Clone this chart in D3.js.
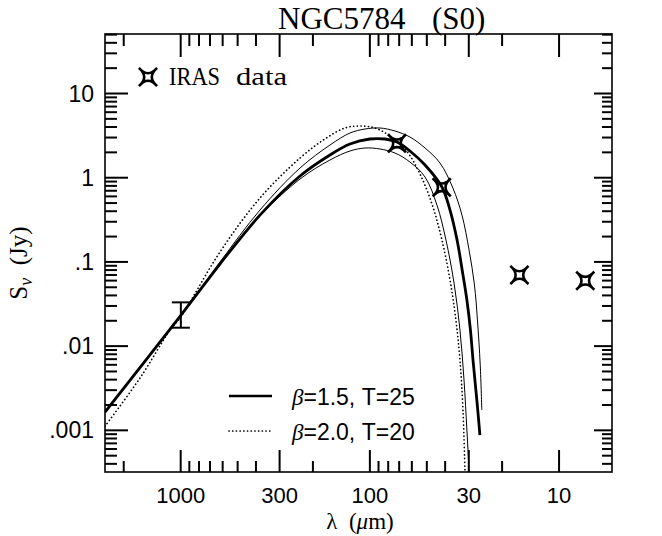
<!DOCTYPE html>
<html><head><meta charset="utf-8">
<script src="https://cdn.jsdelivr.net/npm/d3@7"></script>
<style>body{margin:0;background:#fff} svg{display:block}</style>
</head><body><svg id="c" width="662" height="536"></svg>
<script>
// ---- data ----
const titleText = ["NGC5784", "(S0)"];
const xMajorTicks = [1000, 300, 100, 30, 10];
const xTickLabels = ["1000", "300", "100", "30", "10"];
const xMinorTicks = [2000, 900, 800, 700, 600, 500, 400, 200, 90, 80, 70, 60, 50, 40, 20];
const yMajorTicks = [10, 1, 0.1, 0.01, 0.001];
const yTickLabels = ["10", "1", ".1", ".01", ".001"];

const irasLambda = [71.9, 41.7, 16.2, 7.27];
const irasFlux = [2.56, 0.769, 0.0699, 0.0598];

const mmLambda = [998];
const mmLow = [0.01655];
const mmHigh = [0.0331];

// beta=1.5, T=25 (thick)
const fitALambda = [2512, 996, 620, 381, 234, 162.5, 127.4, 100, 83.2, 71.9, 61.4, 51.1, 41.6, 37.7, 34.6, 32.2, 30.7, 29.4, 28.5, 27.2, 26.2];
const fitAFlux   = [0.00165, 0.0234, 0.0944, 0.360, 1.048, 1.861, 2.512, 2.882, 2.882, 2.655, 2.076, 1.415, 0.775, 0.413, 0.182, 0.0699, 0.0353, 0.01553, 0.00684, 0.00229, 0.000879];
// beta=2.0, T=20 (dotted)
const fitBLambda = [2512, 1641, 1139, 996, 620, 381, 234, 173, 135.4, 112.8, 94.0, 78.3, 64.5, 53.7, 46.4, 41.6, 37.7, 35.1, 33.4, 32.2, 31.4, 31.0];
const fitBFlux   = [0.00112, 0.00418, 0.0155, 0.0225, 0.1311, 0.574, 1.714, 2.882, 3.894, 4.112, 3.894, 3.128, 2.133, 1.048, 0.4487, 0.182, 0.0610, 0.0204, 0.00684, 0.00174, 0.00032, 0.000149];
// upper thin envelope
const fitHiLambda = [2512, 996, 620, 381, 234, 162.5, 127.4, 106.1, 88.4, 73.7, 61.4, 51.1, 42.6, 36.4, 32.6, 29.9, 28.0, 27.0, 26.1, 25.6];
const fitHiFlux   = [0.00165, 0.0234, 0.0998, 0.413, 1.304, 2.445, 3.395, 3.787, 3.894, 3.586, 3.044, 2.253, 1.495, 0.7545, 0.360, 0.1384, 0.0532, 0.0204, 0.00596, 0.00174];
// lower thin envelope
const fitLoLambda = [2512, 996, 620, 381, 234, 162.5, 127.4, 106.1, 88.4, 73.7, 61.4, 51.1, 44.2, 39.6, 35.9, 33.4, 31.8, 30.7, 29.9, 29.6];
const fitLoFlux   = [0.00165, 0.0234, 0.0944, 0.351, 0.965, 1.623, 2.076, 2.253, 2.192, 1.965, 1.536, 1.019, 0.474, 0.182, 0.0562, 0.01553, 0.00396, 0.001008, 0.00032, 0.000149];

const legendLabels = ["\u03b2=1.5, T=25", "\u03b2=2.0, T=20"];

// ---- layout ----
const PL = 105, PR = 612, PT = 34, PB = 472;
const svg = d3.select("#c");
const ink = "#000";

const x = d3.scaleLog().domain([2512, 5.25]).range([PL, PR]);
const y = d3.scaleLog().domain([0.00032, 50.9]).range([PB, PT]);

svg.append("defs").append("clipPath").attr("id", "clip")
  .append("rect").attr("x", PL).attr("y", PT).attr("width", PR - PL).attr("height", PB - PT);

// frame
svg.append("rect").attr("x", PL).attr("y", PT).attr("width", PR - PL).attr("height", PB - PT)
  .attr("fill", "none").attr("stroke", "#111").attr("stroke-width", 1.7);

// ticks
const yMinor = [];
for (let d = -4; d <= 1; d++) for (let k = 2; k <= 9; k++) {
  const v = k * Math.pow(10, d);
  if (v > y.domain()[0] && v < y.domain()[1]) yMinor.push(v);
}
const segs = [];
xMajorTicks.forEach(v => { segs.push([x(v), PB, x(v), PB - 22], [x(v), PT, x(v), PT + 23]); });
xMinorTicks.forEach(v => { segs.push([x(v), PB, x(v), PB - 11], [x(v), PT, x(v), PT + 12]); });
yMajorTicks.forEach(v => { segs.push([PL, y(v), PL + 23, y(v)], [PR, y(v), PR - 18, y(v)]); });
yMinor.forEach(v => { segs.push([PL, y(v), PL + 12, y(v)], [PR, y(v), PR - 10, y(v)]); });
svg.append("g").attr("class", "ticks").selectAll("line").data(segs).enter().append("line")
  .attr("x1", d => d[0]).attr("y1", d => d[1]).attr("x2", d => d[2]).attr("y2", d => d[3])
  .style("stroke", "#000").style("stroke-width", "2px");

// tick labels
const sans = "'Liberation Sans', Arial, sans-serif";
const serif = "'Liberation Serif', 'DejaVu Serif', serif";
svg.append("g").selectAll("text").data(xMajorTicks).join("text")
  .attr("x", d => x(d)).attr("y", 503)
  .attr("text-anchor", "middle").attr("font-family", sans).attr("font-size", 22).attr("fill", ink)
  .text((d, i) => xTickLabels[i]);
svg.append("g").selectAll("text").data(yMajorTicks).join("text")
  .attr("x", 94).attr("y", d => y(d) + 8)
  .attr("text-anchor", "end").attr("font-family", sans).attr("font-size", 23).attr("fill", ink)
  .text((d, i) => yTickLabels[i]);

// title
const tt = svg.append("text").attr("y", 29).attr("font-family", serif).attr("font-size", 31).attr("fill", ink);
tt.append("tspan").attr("x", 278).text(titleText[0]);
tt.append("tspan").attr("x", 432).text(titleText[1]);

// axis titles
const xl = svg.append("text").attr("x", 360).attr("y", 529).attr("text-anchor", "middle")
  .attr("font-family", serif).attr("font-size", 23).attr("fill", ink).style("white-space", "pre");
xl.append("tspan").text("\u03bb  (");
xl.append("tspan").attr("font-style", "italic").text("\u03bc");
xl.append("tspan").text("m)");

const yl = svg.append("text").attr("transform", "translate(27,263) rotate(-90)").attr("text-anchor", "middle")
  .attr("font-family", serif).attr("font-size", 25).attr("fill", ink).style("white-space", "pre");
yl.append("tspan").text("S");
yl.append("tspan").attr("font-style", "italic").attr("font-size", 18).attr("dy", 5).text("\u03bd");
yl.append("tspan").attr("dy", -5).text("  (Jy)");

// curves
const plot = svg.append("g").attr("clip-path", "url(#clip)");
const line = d3.line().x(d => x(d[0])).y(d => y(d[1])).curve(d3.curveCatmullRom.alpha(0.5));
function curve(lam, flux, w, dash) {
  const p = plot.append("path").datum(lam.map((l, i) => [l, flux[i]]))
    .attr("d", line).attr("fill", "none").attr("stroke", ink).attr("stroke-width", w)
    .attr("stroke-linejoin", "round");
  if (dash) p.attr("stroke-dasharray", dash).attr("stroke-linecap", "round");
}
curve(fitHiLambda, fitHiFlux, 1);
curve(fitLoLambda, fitLoFlux, 1);
curve(fitBLambda, fitBFlux, 1.7, "0.1 3.6");
curve(fitALambda, fitAFlux, 2.8);

// star symbol
function starPath(r, m) {
  const c = 2 * m - r;
  return `M${-r},${-r} Q0,${-c} ${r},${-r} Q${c},0 ${r},${r} Q0,${c} ${-r},${r} Q${-c},0 ${-r},${-r} Z`;
}
const sp = starPath(9, 3.8);
svg.append("g").selectAll("path").data(irasLambda).join("path")
  .attr("transform", (d, i) => `translate(${x(d)},${y(irasFlux[i])})`)
  .attr("d", sp).attr("fill", "none").attr("stroke", ink).attr("stroke-width", 2.6);

// error bar
mmLambda.forEach((l, i) => {
  const px = x(l), y0 = y(mmLow[i]), y1 = y(mmHigh[i]);
  [[px, y0, px, y1], [px - 9, y0, px + 9, y0], [px - 9, y1, px + 9, y1]].forEach(c =>
    svg.append("line").attr("x1", c[0]).attr("y1", c[1]).attr("x2", c[2]).attr("y2", c[3])
      .attr("stroke", ink).attr("stroke-width", 2));
});

// IRAS legend
svg.append("path").attr("transform", "translate(148,77)").attr("d", sp)
  .attr("fill", "none").attr("stroke", ink).attr("stroke-width", 2.6);
svg.append("text").attr("x", 169).attr("y", 85).attr("font-family", serif).attr("font-size", 25).attr("fill", ink)
  .attr("textLength", 51).attr("lengthAdjust", "spacingAndGlyphs").text("IRAS");
svg.append("text").attr("x", 236).attr("y", 85).attr("font-family", serif).attr("font-size", 25).attr("fill", ink)
  .attr("textLength", 51).attr("lengthAdjust", "spacingAndGlyphs").text("data");

// model legend
svg.append("line").attr("x1", 229).attr("x2", 272).attr("y1", 396).attr("y2", 396)
  .attr("stroke", ink).attr("stroke-width", 2.6);
svg.append("line").attr("x1", 229).attr("x2", 272).attr("y1", 431).attr("y2", 431)
  .attr("stroke", ink).attr("stroke-width", 1.7).attr("stroke-dasharray", "0.1 3.6").attr("stroke-linecap", "round");
legendLabels.forEach((s, i) => {
  const t = svg.append("text").attr("x", 292).attr("y", 405 + i * 35)
    .attr("font-family", sans).attr("font-size", 23).attr("fill", ink);
  t.append("tspan").attr("font-family", serif).attr("font-style", "italic").text(s[0]);
  t.append("tspan").text(s.slice(1));
});
</script></body></html>
